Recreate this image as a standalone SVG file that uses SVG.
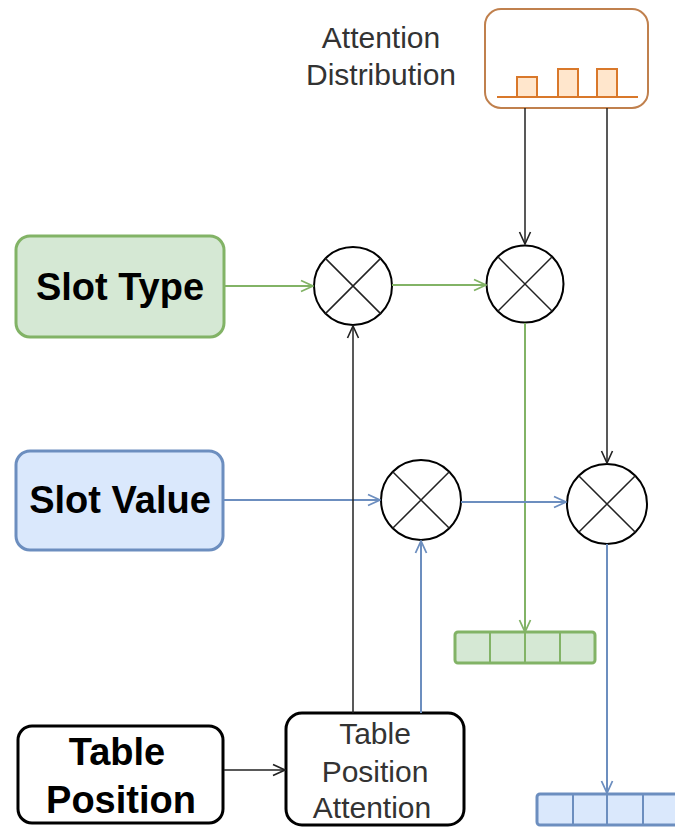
<svg xmlns="http://www.w3.org/2000/svg" width="675" height="827" viewBox="0 0 675 827">
<defs>
<style>
.b{font-family:"Liberation Sans",Arial,sans-serif;font-weight:bold;font-size:38px;fill:#000;text-anchor:middle}
.r{font-family:"Liberation Sans",Arial,sans-serif;font-size:30px;fill:#333;text-anchor:middle}
.op{fill:none;stroke:#000;stroke-width:2}
.x{stroke:#222;stroke-width:1.5}
.g{stroke:#82b366;stroke-width:2;fill:none}
.bl{stroke:#6c8ebf;stroke-width:2;fill:none}
.k{stroke:#222;stroke-width:1.5;fill:none}
</style>
<marker id="ag" viewBox="0 0 14 14" refX="13" refY="7" markerWidth="14" markerHeight="14" markerUnits="userSpaceOnUse" orient="auto"><path d="M1,1.5 L13,7 L1,12.5" fill="none" stroke="#82b366" stroke-width="1.8"/></marker>
<marker id="ab" viewBox="0 0 14 14" refX="13" refY="7" markerWidth="14" markerHeight="14" markerUnits="userSpaceOnUse" orient="auto"><path d="M1,1.5 L13,7 L1,12.5" fill="none" stroke="#6c8ebf" stroke-width="1.8"/></marker>
<marker id="ak" viewBox="0 0 14 14" refX="13" refY="7" markerWidth="14" markerHeight="14" markerUnits="userSpaceOnUse" orient="auto"><path d="M1,1.5 L13,7 L1,12.5" fill="none" stroke="#222" stroke-width="1.6"/></marker>
</defs>
<rect width="675" height="827" fill="#fff"/>

<g id="attention-label"><text class="r" x="381" y="48">Attention</text><text class="r" x="381" y="85">Distribution</text></g>

<g id="attention-distribution">
<rect x="485" y="9" width="163" height="99" rx="16" fill="#fff" stroke="#c0804d" stroke-width="2"/>
<rect x="517" y="77" width="20" height="20" fill="#ffe6cc" stroke="#d9782a" stroke-width="2"/>
<rect x="558" y="69" width="20" height="28" fill="#ffe6cc" stroke="#d9782a" stroke-width="2"/>
<rect x="597" y="69" width="20" height="28" fill="#ffe6cc" stroke="#d9782a" stroke-width="2"/>
<line x1="497" y1="97" x2="638" y2="97" stroke="#d9782a" stroke-width="2"/>
</g>

<g id="slot-type"><rect x="16" y="236" width="208" height="101" rx="14" fill="#d5e8d4" stroke="#82b366" stroke-width="3"/><text class="b" x="120" y="300">Slot Type</text></g>
<g id="slot-value"><rect x="16" y="451" width="207" height="99" rx="14" fill="#dae8fc" stroke="#6c8ebf" stroke-width="3"/><text class="b" x="120" y="513">Slot Value</text></g>
<g id="table-position"><rect x="18" y="726" width="205" height="97" rx="14" fill="#fff" stroke="#000" stroke-width="3"/><text class="b" x="117" y="765">Table</text><text class="b" x="121" y="813">Position</text></g>
<g id="table-position-attention"><rect x="286" y="713" width="178" height="112" rx="16" fill="#fff" stroke="#000" stroke-width="3"/><text class="r" x="375" y="744">Table</text><text class="r" x="375" y="782">Position</text><text class="r" x="372" y="818">Attention</text></g>

<g id="mul1"><circle cx="353" cy="286" r="39" class="op" fill="#fff"/><path class="x" d="M325.4,258.4 L380.6,313.6 M380.6,258.4 L325.4,313.6"/></g>
<g id="mul2"><circle cx="525" cy="284" r="38.5" class="op" fill="#fff"/><path class="x" d="M497.8,256.8 L552.2,311.2 M552.2,256.8 L497.8,311.2"/></g>
<g id="mul3"><circle cx="421" cy="500" r="40" class="op" fill="#fff"/><path class="x" d="M392.7,471.7 L449.3,528.3 M449.3,471.7 L392.7,528.3"/></g>
<g id="mul4"><circle cx="607" cy="504" r="40" class="op" fill="#fff"/><path class="x" d="M578.7,475.7 L635.3,532.3 M635.3,475.7 L578.7,532.3"/></g>

<g id="green-vector"><rect x="455" y="632" width="140" height="31" rx="3" fill="#d5e8d4" stroke="#82b366" stroke-width="3"/><path d="M490,632 V663 M525,632 V663 M560,632 V663" stroke="#82b366" stroke-width="2"/></g>
<g id="blue-vector"><rect x="537" y="794" width="142" height="31" rx="3" fill="#dae8fc" stroke="#6c8ebf" stroke-width="3"/><path d="M573,794 V825 M607,794 V825 M643,794 V825" stroke="#6c8ebf" stroke-width="2"/></g>

<g id="connectors">
<line class="k" x1="525" y1="108" x2="525" y2="244" marker-end="url(#ak)"/>
<line class="k" x1="607" y1="108" x2="607" y2="463" marker-end="url(#ak)"/>
<line class="g" x1="225" y1="286" x2="313" y2="286" marker-end="url(#ag)"/>
<line class="g" x1="392" y1="285" x2="486" y2="285" marker-end="url(#ag)"/>
<line class="g" x1="525" y1="323" x2="525" y2="632" marker-end="url(#ag)"/>
<line class="bl" x1="224" y1="500" x2="380" y2="500" marker-end="url(#ab)"/>
<line class="bl" x1="461" y1="502" x2="566" y2="502" marker-end="url(#ab)"/>
<line class="bl" x1="607" y1="544" x2="607" y2="793" marker-end="url(#ab)"/>
<line class="k" x1="224" y1="770" x2="285" y2="770" marker-end="url(#ak)"/>
<line class="k" x1="353" y1="713" x2="353" y2="326" marker-end="url(#ak)"/>
<line class="bl" x1="421" y1="713" x2="421" y2="541" marker-end="url(#ab)"/>
</g>
</svg>
